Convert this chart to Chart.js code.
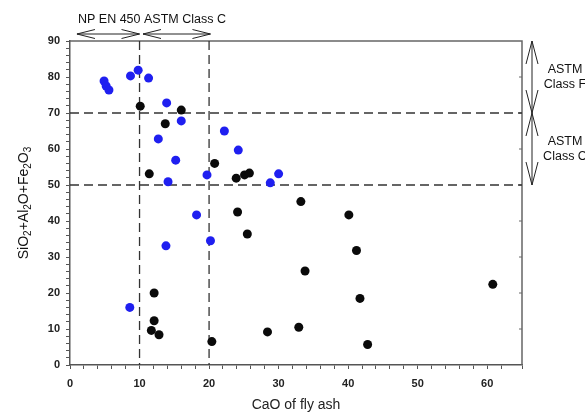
<!DOCTYPE html>
<html>
<head>
<meta charset="utf-8">
<script src="https://cdn.jsdelivr.net/npm/chart.js@4.4.0/dist/chart.umd.min.js"></script>
<style>
  html, body { margin: 0; padding: 0; background: #fff; }
  #wrap { width: 585px; height: 418px; }
</style>
</head>
<body>
<div id="wrap"><canvas id="scatterChart" width="585" height="418"></canvas></div>
<script>
// CaO (x) and SiO2+Al2O3+Fe2O3 (y)
var blueCaO = [4.9, 5.2, 5.6, 8.7, 9.8, 11.3, 13.9, 16.0, 12.7, 15.2, 14.1, 19.7, 22.2, 24.2, 18.2, 13.8, 20.2, 8.6, 28.8, 30.0];
var blueSum = [78.9, 77.5, 76.4, 80.3, 81.9, 79.7, 72.8, 67.8, 62.8, 56.9, 50.9, 52.8, 65.0, 59.7, 41.7, 33.1, 34.5, 16.0, 50.6, 53.1];
var blackCaO = [10.1, 16.0, 13.7, 11.4, 20.8, 23.9, 25.1, 25.8, 24.1, 33.2, 25.5, 40.1, 41.2, 33.8, 41.7, 60.8, 28.4, 32.9, 42.8, 12.1, 12.1, 11.7, 12.8, 20.4];
var blackSum = [71.9, 70.8, 67.0, 53.1, 56.0, 51.9, 52.8, 53.3, 42.5, 45.4, 36.4, 41.7, 31.8, 26.1, 18.5, 22.4, 9.2, 10.5, 5.7, 20.0, 12.3, 9.6, 8.4, 6.5];

// classification limits
var caoLimits = [10, 20];
var sumLimits = [70, 50];
var caoBands = [{ label: "NP EN 450", from: 1, to: 10 }, { label: "ASTM Class C", from: 10.5, to: 20.2 }];
var sumBands = [{ label: ["ASTM", "Class F"], from: 90, to: 70 }, { label: ["ASTM", "Class C"], from: 70, to: 50 }];

function toPoints(xs, ys) {
  return xs.map(function (x, i) { return { x: x, y: ys[i] }; });
}

var FONT = "'Liberation Sans', Arial, sans-serif";

function arrowHead(ctx, tx, ty, dx, dy, len, half) {
  // open V arrow head pointing to (tx,ty), direction (dx,dy) unit
  var bx = tx - dx * len, by = ty - dy * len;
  ctx.beginPath();
  ctx.moveTo(bx - dy * half, by + dx * half);
  ctx.lineTo(tx, ty);
  ctx.lineTo(bx + dy * half, by - dx * half);
  ctx.stroke();
}

var overlay = {
  id: 'overlay',
  beforeDatasetsDraw: function (chart) {
    var ctx = chart.ctx, a = chart.chartArea;
    var xs = chart.scales.x, ys = chart.scales.y;
    ctx.save();
    // frame top / right
    ctx.strokeStyle = '#666';
    ctx.lineWidth = 1.5;
    ctx.beginPath();
    ctx.moveTo(a.left, a.top);
    ctx.lineTo(a.right, a.top);
    ctx.lineTo(a.right, a.bottom);
    ctx.stroke();
    // right axis small ticks
    ctx.lineWidth = 1;
    for (var v = 10; v < 90; v += 10) {
      var py = ys.getPixelForValue(v);
      ctx.beginPath();
      ctx.moveTo(a.right - 3, py);
      ctx.lineTo(a.right, py);
      ctx.stroke();
    }
    // dashed limit lines
    ctx.strokeStyle = '#333';
    ctx.lineWidth = 1.3;
    ctx.setLineDash([9, 5]);
    caoLimits.forEach(function (c) {
      var px = xs.getPixelForValue(c);
      ctx.beginPath();
      ctx.moveTo(px, a.top);
      ctx.lineTo(px, a.bottom);
      ctx.stroke();
    });
    sumLimits.forEach(function (s) {
      var py = ys.getPixelForValue(s);
      ctx.beginPath();
      ctx.moveTo(a.left, py);
      ctx.lineTo(a.right, py);
      ctx.stroke();
    });
    ctx.setLineDash([]);

    // top arrows
    ctx.strokeStyle = '#222';
    ctx.lineWidth = 1;
    ctx.fillStyle = '#111';
    ctx.font = '12.5px ' + FONT;
    ctx.textBaseline = 'middle';
    var ay = a.top - 7;
    caoBands.forEach(function (b) {
      var x1 = xs.getPixelForValue(b.from), x2 = xs.getPixelForValue(b.to);
      ctx.beginPath();
      ctx.moveTo(x1, ay);
      ctx.lineTo(x2, ay);
      ctx.stroke();
      arrowHead(ctx, x1, ay, -1, 0, 18, 4.5);
      arrowHead(ctx, x2, ay, 1, 0, 18, 4.5);
      ctx.textAlign = 'left';
      ctx.fillText(b.label, x1 + 1, 20);
    });

    // right arrows
    ctx.textAlign = 'center';
    var ax = a.right + 10;
    sumBands.forEach(function (b) {
      var y1 = ys.getPixelForValue(b.from), y2 = ys.getPixelForValue(b.to);
      ctx.beginPath();
      ctx.moveTo(ax, y1);
      ctx.lineTo(ax, y2);
      ctx.stroke();
      arrowHead(ctx, ax, y1, 0, -1, 23, 6);
      arrowHead(ctx, ax, y2, 0, 1, 23, 6);
      var cy = (y1 + y2) / 2;
      ctx.fillText(b.label[0], ax + 33, cy - 7);
      ctx.fillText(b.label[1], ax + 33, cy + 8);
    });

    // y title with subscripts
    ctx.save();
    ctx.translate(23, (a.top + a.bottom) / 2);
    ctx.rotate(-Math.PI / 2);
    var parts = [['SiO', 0], ['2', 1], ['+Al', 0], ['2', 1], ['O+Fe', 0], ['2', 1], ['O', 0], ['3', 1]];
    var big = '14px ' + FONT, small = '10px ' + FONT;
    var total = 0;
    parts.forEach(function (p) { ctx.font = p[1] ? small : big; total += ctx.measureText(p[0]).width; });
    var cx = -total / 2;
    ctx.textAlign = 'left';
    ctx.textBaseline = 'alphabetic';
    parts.forEach(function (p) {
      ctx.font = p[1] ? small : big;
      ctx.fillText(p[0], cx, p[1] ? 8 : 5);
      cx += ctx.measureText(p[0]).width;
    });
    ctx.restore();
    ctx.restore();
  }
};

var ctx = document.getElementById('scatterChart').getContext('2d');
var scatterChart = new Chart(ctx, {
  type: 'scatter',
  data: {
    datasets: [{
        label: 'blue',
        data: toPoints(blueCaO, blueSum),
        backgroundColor: '#1f1ff0',
        borderColor: '#1f1ff0',
        pointRadius: 4.5,
        borderWidth: 0
      },
      {
        label: 'black',
        data: toPoints(blackCaO, blackSum),
        backgroundColor: '#0a0a0a',
        borderColor: '#0a0a0a',
        pointRadius: 4.5,
        borderWidth: 0
      }
    ]
  },
  options: {
    responsive: false,
    animation: false,
    layout: { padding: { top: 41, right: 63, left: 0, bottom: 0 } },
    plugins: {
      legend: { display: false },
      tooltip: { enabled: false }
    },
    scales: {
      x: {
        type: 'linear',
        min: 0,
        max: 65,
        afterFit: function (s) { s.height = 53; },
        border: { color: '#555', width: 1.5 },
        grid: { drawOnChartArea: false, tickLength: 4, color: '#555' },
        ticks: {
          stepSize: 2,
          autoSkip: false,
          maxRotation: 0,
          color: '#222',
          padding: 8,
          font: { family: FONT, size: 11, weight: 'bold' },
          callback: function (v) { return v % 10 === 0 ? v : ''; }
        },
        title: {
          display: true,
          text: 'CaO of fly ash',
          color: '#222',
          font: { family: FONT, size: 14 },
          padding: { top: 10 }
        }
      },
      y: {
        type: 'linear',
        min: 0,
        max: 90,
        afterFit: function (s) { s.width = 70; },
        border: { color: '#555', width: 1.5 },
        grid: { drawOnChartArea: false, tickLength: 4, color: '#555' },
        ticks: {
          stepSize: 2,
          autoSkip: false,
          color: '#222',
          padding: 6,
          font: { family: FONT, size: 11, weight: 'bold' },
          callback: function (v) { return v % 10 === 0 ? v : ''; }
        }
      }
    }
  },
  plugins: [overlay]
});
</script>
</body>
</html>
